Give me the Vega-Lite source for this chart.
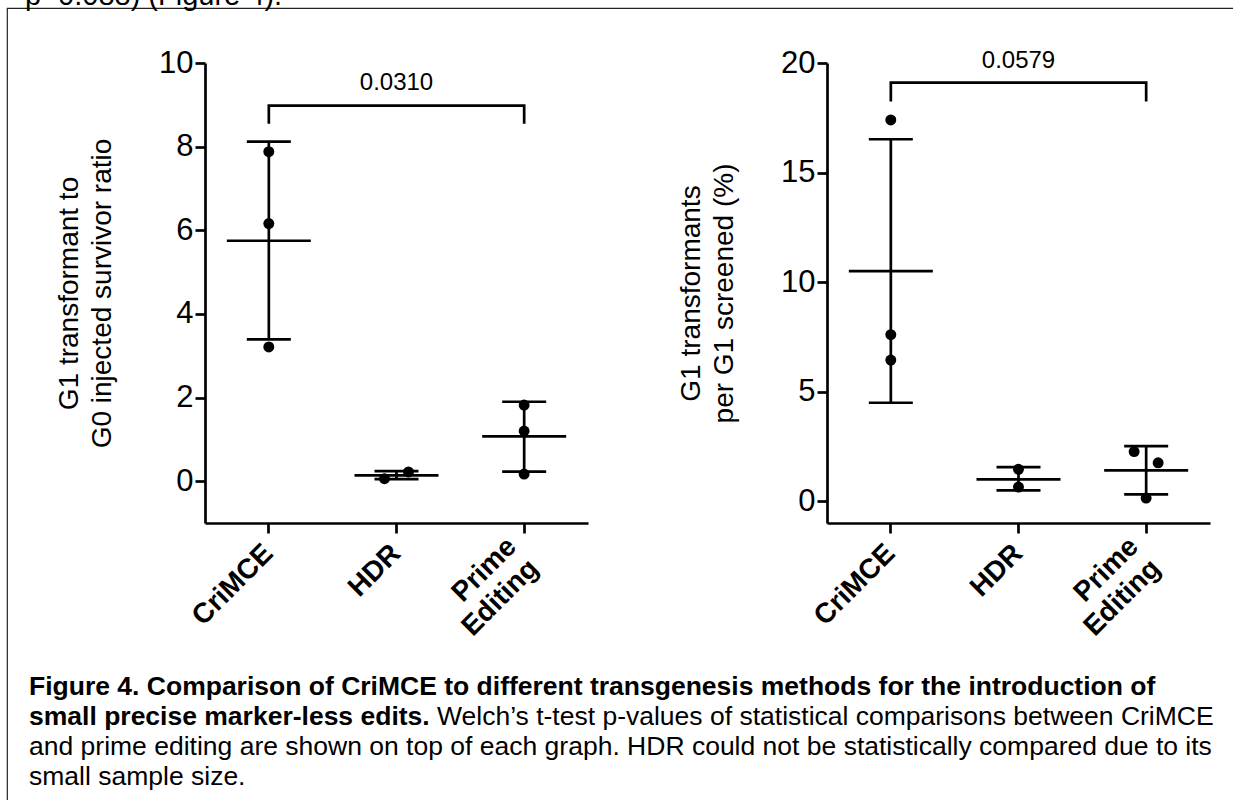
{
  "$schema": "https://vega.github.io/schema/vega-lite/v6.json",
  "width": 1240,
  "height": 802,
  "autosize": "none",
  "padding": {"left": 7, "top": 8, "right": -14, "bottom": -10},
  "background": "white",
  "title": {"text": "p=0.088) (Figure 4).", "anchor": "start", "orient": "top", "frame": "group", "offset": -26, "baseline": "alphabetic", "fontSize": 29, "fontWeight": "normal", "color": "black", "dx": 18, "font": "Liberation Sans"},
  "config": {
    "font": "Liberation Sans",
    "view": {"stroke": "#222", "strokeWidth": 1.2},
    "axis": {"grid": false, "domainColor": "black", "domainWidth": 2.7, "tickColor": "black", "tickWidth": 2.7, "tickSize": 10, "labelColor": "black", "titleColor": "black", "labelFont": "Liberation Sans", "titleFont": "Liberation Sans"},
    "axisY": {"labelFontSize": 31, "labelPadding": 2, "titleFontSize": 28, "titleFontWeight": "normal", "titleLineHeight": 33, "titlePadding": 42, "format": "d"},
    "axisX": {"labelFontSize": 28, "labelFontWeight": "bold", "labelAngle": -45, "labelAlign": "right", "labelBaseline": "middle", "labelLineHeight": 31, "labelExpr": "split(datum.label, ' ')", "labelOverlap": false, "labelBound": false, "labelLimit": 400,
              "labelPadding": {"condition": {"test": "datum.label === 'Prime Editing'", "value": 9}, "value": 16},
              "labelOffset": {"condition": {"test": "datum.label === 'Prime Editing'", "value": -12}, "value": 0}}
  },
  "datasets": {
    "leftPts": [
      {"method": "CriMCE", "value": 7.88, "jit": 0},
      {"method": "CriMCE", "value": 6.16, "jit": 0},
      {"method": "CriMCE", "value": 3.21, "jit": 0},
      {"method": "HDR", "value": 0.06, "jit": -1},
      {"method": "HDR", "value": 0.22, "jit": 1},
      {"method": "Prime Editing", "value": 1.82, "jit": 0},
      {"method": "Prime Editing", "value": 1.2, "jit": 0},
      {"method": "Prime Editing", "value": 0.17, "jit": 0}
    ],
    "leftSum": [
      {"method": "CriMCE", "mean": 5.75, "lo": 3.39, "hi": 8.12},
      {"method": "HDR", "mean": 0.14, "lo": 0.05, "hi": 0.24},
      {"method": "Prime Editing", "mean": 1.07, "lo": 0.23, "hi": 1.9}
    ],
    "leftBracket": [
      {"method": "CriMCE", "y": 8.55, "o": 1},
      {"method": "CriMCE", "y": 8.98, "o": 2},
      {"method": "Prime Editing", "y": 8.98, "o": 3},
      {"method": "Prime Editing", "y": 8.55, "o": 4}
    ],
    "leftP": [{"method": "HDR", "y": 9.53, "label": "0.0310"}],
    "rightPts": [
      {"method": "CriMCE", "value": 17.4, "jit": 0},
      {"method": "CriMCE", "value": 7.6, "jit": 0},
      {"method": "CriMCE", "value": 6.44, "jit": 0},
      {"method": "HDR", "value": 1.45, "jit": 0},
      {"method": "HDR", "value": 0.64, "jit": 0},
      {"method": "Prime Editing", "value": 2.26, "jit": -1},
      {"method": "Prime Editing", "value": 1.75, "jit": 1},
      {"method": "Prime Editing", "value": 0.14, "jit": 0}
    ],
    "rightSum": [
      {"method": "CriMCE", "mean": 10.5, "lo": 4.49, "hi": 16.52},
      {"method": "HDR", "mean": 0.99, "lo": 0.49, "hi": 1.55},
      {"method": "Prime Editing", "mean": 1.4, "lo": 0.31, "hi": 2.51}
    ],
    "rightBracket": [
      {"method": "CriMCE", "y": 18.24, "o": 1},
      {"method": "CriMCE", "y": 19.1, "o": 2},
      {"method": "Prime Editing", "y": 19.1, "o": 3},
      {"method": "Prime Editing", "y": 18.24, "o": 4}
    ],
    "rightP": [{"method": "HDR", "y": 20.07, "label": "0.0579"}],
    "capBold": [
      {"line": 1, "text": "Figure 4. Comparison of CriMCE to different transgenesis methods for the introduction of"},
      {"line": 2, "text": "small precise marker-less edits."}
    ],
    "capReg2": [
      {"line": 2, "text": "Welch’s t-test p-values of statistical comparisons between CriMCE"}
    ],
    "capReg": [
      {"line": 3, "text": "and prime editing are shown on top of each graph. HDR could not be statistically compared due to its"},
      {"line": 4, "text": "small sample size."}
    ]
  },
  "resolve": {"scale": {"x": "independent", "y": "independent", "xOffset": "independent"}, "axis": {"x": "independent", "y": "independent"}},
  "layer": [
    {
      "layer": [
        {
          "data": {"name": "leftPts"},
          "mark": {"type": "circle", "size": 120, "color": "black", "opacity": 1},
          "encoding": {
            "x": {"field": "method", "type": "nominal", "sort": ["CriMCE", "HDR", "Prime Editing"],
                  "scale": {"type": "band", "domain": ["CriMCE", "HDR", "Prime Editing"], "range": [198, 581], "paddingInner": 0, "paddingOuter": 0},
                  "axis": {"orient": "bottom", "offset": -287, "title": null}},
            "xOffset": {"field": "jit", "type": "quantitative", "scale": {"domain": [-1, 1], "range": [51.8, 75.8]}},
            "y": {"field": "value", "type": "quantitative",
                  "scale": {"domain": [-1, 10], "range": [515, 55], "nice": false, "zero": false},
                  "axis": {"orient": "left", "offset": -198, "values": [0, 2, 4, 6, 8, 10], "title": ["G1 transformant to", "G0 injected survivor ratio"]}}
          }
        },
        {
          "data": {"name": "leftSum"},
          "mark": {"type": "tick", "size": 84, "thickness": 2.7, "color": "black", "opacity": 1},
          "encoding": {
            "x": {"field": "method", "type": "nominal"},
            "y": {"field": "mean", "type": "quantitative"}
          }
        },
        {
          "data": {"name": "leftSum"},
          "mark": {"type": "rule", "strokeWidth": 2.7, "color": "black"},
          "encoding": {
            "x": {"field": "method", "type": "nominal"},
            "y": {"field": "lo", "type": "quantitative"},
            "y2": {"field": "hi"}
          }
        },
        {
          "data": {"name": "leftSum"},
          "mark": {"type": "tick", "size": 44, "thickness": 2.7, "color": "black", "opacity": 1},
          "encoding": {
            "x": {"field": "method", "type": "nominal"},
            "y": {"field": "lo", "type": "quantitative"}
          }
        },
        {
          "data": {"name": "leftSum"},
          "mark": {"type": "tick", "size": 44, "thickness": 2.7, "color": "black", "opacity": 1},
          "encoding": {
            "x": {"field": "method", "type": "nominal"},
            "y": {"field": "hi", "type": "quantitative"}
          }
        },
        {
          "data": {"name": "leftBracket"},
          "mark": {"type": "line", "strokeWidth": 2.7, "color": "black", "strokeJoin": "miter"},
          "encoding": {
            "x": {"field": "method", "type": "nominal"},
            "y": {"field": "y", "type": "quantitative"},
            "order": {"field": "o", "type": "quantitative"}
          }
        },
        {
          "data": {"name": "leftP"},
          "mark": {"type": "text", "fontSize": 24, "color": "black", "font": "Liberation Sans"},
          "encoding": {
            "x": {"field": "method", "type": "nominal"},
            "y": {"field": "y", "type": "quantitative"},
            "text": {"field": "label"}
          }
        }
      ]
    },
    {
      "layer": [
        {
          "data": {"name": "rightPts"},
          "mark": {"type": "circle", "size": 120, "color": "black", "opacity": 1},
          "encoding": {
            "x": {"field": "method", "type": "nominal", "sort": ["CriMCE", "HDR", "Prime Editing"],
                  "scale": {"type": "band", "domain": ["CriMCE", "HDR", "Prime Editing"], "range": [820, 1203], "paddingInner": 0, "paddingOuter": 0},
                  "axis": {"orient": "bottom", "offset": -287, "title": null}},
            "xOffset": {"field": "jit", "type": "quantitative", "scale": {"domain": [-1, 1], "range": [51.8, 75.8]}},
            "y": {"field": "value", "type": "quantitative",
                  "scale": {"domain": [-1, 20], "range": [515, 55], "nice": false, "zero": false},
                  "axis": {"orient": "left", "offset": -820, "values": [0, 5, 10, 15, 20], "title": ["G1 transformants", "per G1 screened (%)"]}}
          }
        },
        {
          "data": {"name": "rightSum"},
          "mark": {"type": "tick", "size": 84, "thickness": 2.7, "color": "black", "opacity": 1},
          "encoding": {
            "x": {"field": "method", "type": "nominal"},
            "y": {"field": "mean", "type": "quantitative"}
          }
        },
        {
          "data": {"name": "rightSum"},
          "mark": {"type": "rule", "strokeWidth": 2.7, "color": "black"},
          "encoding": {
            "x": {"field": "method", "type": "nominal"},
            "y": {"field": "lo", "type": "quantitative"},
            "y2": {"field": "hi"}
          }
        },
        {
          "data": {"name": "rightSum"},
          "mark": {"type": "tick", "size": 44, "thickness": 2.7, "color": "black", "opacity": 1},
          "encoding": {
            "x": {"field": "method", "type": "nominal"},
            "y": {"field": "lo", "type": "quantitative"}
          }
        },
        {
          "data": {"name": "rightSum"},
          "mark": {"type": "tick", "size": 44, "thickness": 2.7, "color": "black", "opacity": 1},
          "encoding": {
            "x": {"field": "method", "type": "nominal"},
            "y": {"field": "hi", "type": "quantitative"}
          }
        },
        {
          "data": {"name": "rightBracket"},
          "mark": {"type": "line", "strokeWidth": 2.7, "color": "black", "strokeJoin": "miter"},
          "encoding": {
            "x": {"field": "method", "type": "nominal"},
            "y": {"field": "y", "type": "quantitative"},
            "order": {"field": "o", "type": "quantitative"}
          }
        },
        {
          "data": {"name": "rightP"},
          "mark": {"type": "text", "fontSize": 24, "color": "black", "font": "Liberation Sans"},
          "encoding": {
            "x": {"field": "method", "type": "nominal"},
            "y": {"field": "y", "type": "quantitative"},
            "text": {"field": "label"}
          }
        }
      ]
    },
    {
      "layer": [
        {
          "data": {"name": "capBold"},
          "mark": {"type": "text", "align": "left", "baseline": "alphabetic", "fontSize": 26.5, "fontWeight": "bold", "color": "black", "font": "Liberation Sans"},
          "encoding": {
            "x": {"datum": 0, "type": "quantitative", "scale": {"domain": [0, 1], "range": [22, 1222]}, "axis": null},
            "y": {"field": "line", "type": "ordinal", "scale": {"type": "point", "domain": [1, 2, 3, 4], "range": [687, 776.5], "padding": 0}, "axis": null},
            "text": {"field": "text"}
          }
        },
        {
          "data": {"name": "capReg2"},
          "mark": {"type": "text", "align": "left", "baseline": "alphabetic", "fontSize": 26.5, "fontWeight": "normal", "color": "black", "font": "Liberation Sans", "dx": 408},
          "encoding": {
            "x": {"datum": 0, "type": "quantitative"},
            "y": {"field": "line", "type": "ordinal"},
            "text": {"field": "text"}
          }
        },
        {
          "data": {"name": "capReg"},
          "mark": {"type": "text", "align": "left", "baseline": "alphabetic", "fontSize": 26.5, "fontWeight": "normal", "color": "black", "font": "Liberation Sans"},
          "encoding": {
            "x": {"datum": 0, "type": "quantitative"},
            "y": {"field": "line", "type": "ordinal"},
            "text": {"field": "text"}
          }
        }
      ]
    }
  ]
}
